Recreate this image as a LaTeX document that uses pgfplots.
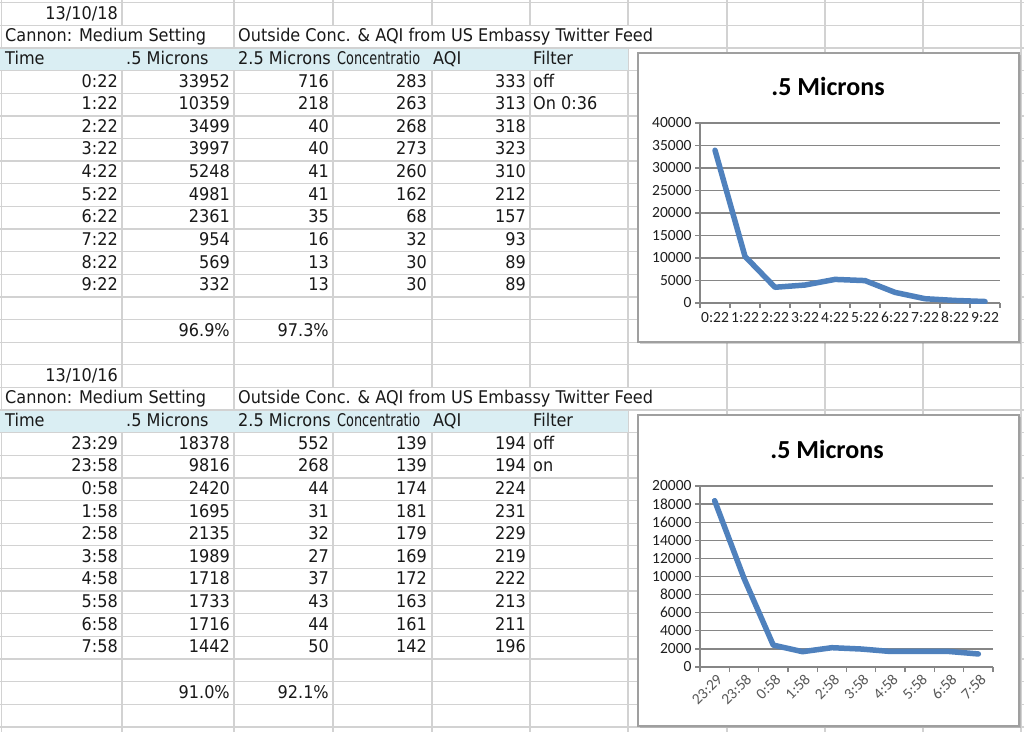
\documentclass[border=0pt]{standalone}
\usepackage{pgfplots}
\pgfplotsset{compat=1.18}
\usepackage{fontspec}
\usepackage{graphicx}
\setmainfont[FakeStretch=0.92]{DejaVu Sans}
\newfontfamily\chartfont[Numbers=Lining]{Carlito}
\usetikzlibrary{shadows}
\definecolor{gridc}{RGB}{210,210,210}
\definecolor{hdr}{RGB}{218,238,243}
\definecolor{cline}{RGB}{134,134,134}
\definecolor{series}{RGB}{79,129,189}
\definecolor{txt}{RGB}{25,25,25}
\pgfkeys{/pgf/number format/assume math mode=true, /pgf/number format/1000 sep={}}
\begin{document}
\begin{tikzpicture}[x=1pt,y=-1pt,
  sheet/.style={inner sep=0pt, text=txt, font=\fontsize{17.5}{20}\selectfont},
  num/.style={sheet, anchor=base east},
  lbl/.style={sheet, anchor=base west}]
\useasboundingbox (0,0) rectangle (1024,732);
\fill[white] (0,0) rectangle (1024,732);
% vertical grid lines
\foreach \xx in {1.5,122,234,333,432,530,628,727,825,923,1021}
  \draw[gridc, line width=1.3pt] (\xx,0) -- (\xx,732);
% overflow rows hide lines
\foreach \r in {1,17}{
  \fill[white] (3,{2.7+22.63*\r}) rectangle (233,{2.7+22.63*(\r+1)});
  \fill[white] (235,{2.7+22.63*\r}) rectangle (726,{2.7+22.63*(\r+1)});
}
% header rows
\foreach \r in {2,18}
  \fill[hdr] (0,{2.7+22.63*\r}) rectangle (628,{2.7+22.63*(\r+1)});
% horizontal grid lines
\foreach \i in {0,...,32}
  \draw[gridc, line width=1.3pt] (0,{2.7+22.63*\i}) -- (1024,{2.7+22.63*\i});
% texts
\node[num] at (118,{19.2+22.63*0}) {13/10/18};
\node[num] at (118,{19.2+22.63*16}) {13/10/16};
\foreach \r in {1,17}{
  \node[lbl] at (5,{19.2+22.63*\r}) {Cannon: Medium Setting};
  \node[lbl] at (238,{19.2+22.63*\r}) {Outside Conc. \& AQI from US Embassy Twitter Feed};
}
\foreach \r in {2,18}{
  \node[lbl] at (5,{19.2+22.63*\r}) {Time};
  \node[lbl] at (126,{19.2+22.63*\r}) {.5 Microns};
  \node[lbl] at (238,{19.2+22.63*\r}) {2.5 Microns};
  \node[lbl] at (337,{19.2+22.63*\r}) {\scalebox{0.8}[1]{Concentratio}};
  \node[lbl] at (433,{19.2+22.63*\r}) {AQI};
  \node[lbl] at (533,{19.2+22.63*\r}) {Filter};
}
\foreach \r/\t/\a/\b/\c/\d in {
  3/0:22/33952/716/283/333, 4/1:22/10359/218/263/313, 5/2:22/3499/40/268/318,
  6/3:22/3997/40/273/323, 7/4:22/5248/41/260/310, 8/5:22/4981/41/162/212,
  9/6:22/2361/35/68/157, 10/7:22/954/16/32/93, 11/8:22/569/13/30/89,
  12/9:22/332/13/30/89,
  19/23:29/18378/552/139/194, 20/23:58/9816/268/139/194, 21/0:58/2420/44/174/224,
  22/1:58/1695/31/181/231, 23/2:58/2135/32/179/229, 24/3:58/1989/27/169/219,
  25/4:58/1718/37/172/222, 26/5:58/1733/43/163/213, 27/6:58/1716/44/161/211,
  28/7:58/1442/50/142/196}{
  \node[num] at (118,{19.2+22.63*\r}) {\t};
  \node[num] at (230,{19.2+22.63*\r}) {\a};
  \node[num] at (329,{19.2+22.63*\r}) {\b};
  \node[num] at (427,{19.2+22.63*\r}) {\c};
  \node[num] at (526,{19.2+22.63*\r}) {\d};
}
\node[lbl] at (533,{19.2+22.63*3}) {off};
\node[lbl] at (533,{19.2+22.63*4}) {On 0:36};
\node[lbl] at (533,{19.2+22.63*19}) {off};
\node[lbl] at (533,{19.2+22.63*20}) {on};
\node[num] at (230,{19.2+22.63*14}) {96.9\%};
\node[num] at (329,{19.2+22.63*14}) {97.3\%};
\node[num] at (230,{19.2+22.63*30}) {91.0\%};
\node[num] at (329,{19.2+22.63*30}) {92.1\%};
% chart boxes
\filldraw[fill=white, draw=gray!75, line width=1.5pt,
  drop shadow={shadow xshift=1.5pt, shadow yshift=-1.5pt, opacity=0.35}] (638,53) rectangle (1019,342);
\filldraw[fill=white, draw=gray!75, line width=1.5pt,
  drop shadow={shadow xshift=1.5pt, shadow yshift=-1.5pt, opacity=0.35}] (638,415) rectangle (1019,726);
\node[font=\chartfont\bfseries\fontsize{26}{26}\selectfont] at (828,86) {.5 Microns};
\node[font=\chartfont\bfseries\fontsize{26}{26}\selectfont] at (827,449) {.5 Microns};
\pgfplotsset{excelchart/.style={
  scale only axis, xmin=-0.5, xmax=9.5, ymin=0,
  scaled y ticks=false,
  xtick={-0.5,0.5,...,9.5}, xticklabels={},
  extra x ticks={0,...,9},
  extra x tick style={major tick length=0pt},
  ymajorgrids, grid style={cline, line width=1.3pt},
  axis x line*=bottom, axis y line*=left,
  axis line style={cline, line width=1.3pt, -},
  tick style={cline, line width=1.3pt},
  tick align=outside, major tick length=5pt,
  ticklabel style={font=\chartfont\fontsize{15.5}{15.5}\selectfont, text=black!88},
  yticklabel style={/pgf/number format/fixed, /pgf/number format/1000 sep={},
    /pgf/number format/assume math mode=true},
}}
\begin{axis}[excelchart,
  at={(700pt,-303pt)}, anchor=south west, width=300pt, height=180pt,
  ymax=40000, ytick={0,5000,...,40000},
  xticklabel style={anchor=base, yshift=-19pt},
  extra x tick labels={0:22,1:22,2:22,3:22,4:22,5:22,6:22,7:22,8:22,9:22}]
\addplot[series, line width=5.5pt, line join=round, line cap=round] coordinates {
  (0,33952) (1,10359) (2,3499) (3,3997) (4,5248) (5,4981) (6,2361) (7,954) (8,569) (9,332)};
\end{axis}
\begin{axis}[excelchart,
  at={(700pt,-667pt)}, anchor=south west, width=293pt, height=181pt,
  ymax=20000, ytick={0,2000,...,20000},
  xticklabel style={rotate=45, anchor=north east, text=black!65, yshift=-2pt,
    text height=10pt, text depth=1pt},
  extra x tick labels={23:29,23:58,0:58,1:58,2:58,3:58,4:58,5:58,6:58,7:58}]
\addplot[series, line width=5.5pt, line join=round, line cap=round] coordinates {
  (0,18378) (1,9816) (2,2420) (3,1695) (4,2135) (5,1989) (6,1718) (7,1733) (8,1716) (9,1442)};
\end{axis}
\end{tikzpicture}
\end{document}
